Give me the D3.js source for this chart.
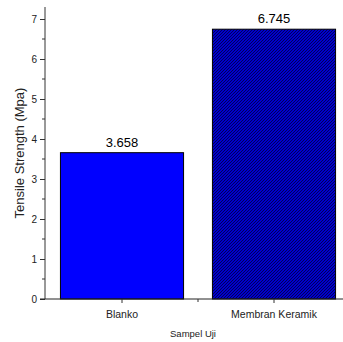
<!DOCTYPE html>
<html><head><meta charset="utf-8">
<script src="https://cdn.jsdelivr.net/npm/d3@7"></script>
<style>body{margin:0;background:#fff}svg{display:block;font-family:"Liberation Sans",Arial,sans-serif}</style>
</head><body>
<svg id="c" width="343" height="342"></svg>
<script>
const categories = ["Blanko", "Membran Keramik"];
const values = [3.658, 6.745];
const valueLabels = ["3.658", "6.745"];
const yTicks = [0, 1, 2, 3, 4, 5, 6, 7];
const yTitle = "Tensile Strength (Mpa)";
const xTitle = "Sampel Uji";

const svg = d3.select("#c");
const x0 = 45, x1 = 350, yb = 299, yt = 7;
const x = d3.scaleBand().domain(categories).range([x0 + 1, x1]).paddingInner(0.19).paddingOuter(0.095);
const y = d3.scaleLinear().domain([0, 7.3]).range([yb, yt]);

const defs = svg.append("defs");
const pat = defs.append("pattern").attr("id", "hatch").attr("patternUnits", "userSpaceOnUse")
  .attr("width", 3).attr("height", 3);
pat.append("rect").attr("width", 3).attr("height", 3).attr("fill", "#0000ff");
pat.append("path").attr("d", "M-1,1 l2,-2 M0,3 l3,-3 M2,4 l2,-2")
  .attr("stroke", "#000050").attr("stroke-width", 1.1);

svg.selectAll("rect.bar").data(values).enter().append("rect")
  .attr("class", "bar")
  .attr("x", (d, i) => x(categories[i]))
  .attr("width", x.bandwidth())
  .attr("y", d => y(d))
  .attr("height", d => y(0) - y(d))
  .attr("fill", (d, i) => i === 0 ? "#0000ff" : "url(#hatch)")
  .attr("stroke", "#000").attr("stroke-width", 1);

svg.selectAll("text.vl").data(values).enter().append("text")
  .attr("x", (d, i) => x(categories[i]) + x.bandwidth() / 2)
  .attr("y", d => y(d) - 6)
  .attr("text-anchor", "middle").attr("font-size", 13).attr("fill", "#000")
  .text((d, i) => valueLabels[i]);

// Y axis
const yAxis = d3.axisLeft(y).tickValues(yTicks).tickSize(5).tickPadding(3).tickFormat(d3.format("d"));
const gy = svg.append("g").attr("transform", `translate(${x0},0)`).call(yAxis);
gy.select(".domain").attr("d", `M0,${yb}V${yt}`).attr("stroke", "#333");
gy.selectAll(".tick line").attr("stroke", "#333");
gy.selectAll("text").attr("font-size", 10).attr("font-family", "Liberation Sans, Arial, sans-serif").attr("fill", "#222");
const minor = d3.range(0.5, 7.01, 1);
gy.selectAll("line.minor").data(minor).enter().append("line")
  .attr("x1", -3).attr("x2", 0).attr("y1", d => y(d)).attr("y2", d => y(d)).attr("stroke", "#333");

// X axis
const gx = svg.append("g").attr("transform", `translate(0,${yb})`);
gx.append("line").attr("x1", x0 - 5).attr("x2", x1).attr("y1", 0).attr("y2", 0).attr("stroke", "#222");
const centers = categories.map(c => x(c) + x.bandwidth() / 2);
gx.selectAll("line.tk").data(centers).enter().append("line")
  .attr("x1", d => d).attr("x2", d => d).attr("y1", 0).attr("y2", 4).attr("stroke", "#333");
gx.append("line").attr("x1", (centers[0] + centers[1]) / 2).attr("x2", (centers[0] + centers[1]) / 2)
  .attr("y1", 0).attr("y2", 3).attr("stroke", "#333");
gx.selectAll("text.xl").data(categories).enter().append("text")
  .attr("x", (d, i) => centers[i]).attr("y", 19)
  .attr("text-anchor", "middle").attr("font-size", 10.5).attr("fill", "#222").text(d => d);

svg.append("text").attr("x", 193).attr("y", 337).attr("text-anchor", "middle")
  .attr("font-size", 9.5).attr("fill", "#222").text(xTitle);
svg.append("text").attr("transform", `translate(24,${(yb + yt) / 2}) rotate(-90)`)
  .attr("text-anchor", "middle").attr("font-size", 13).attr("fill", "#222").text(yTitle);
</script>
</body></html>
